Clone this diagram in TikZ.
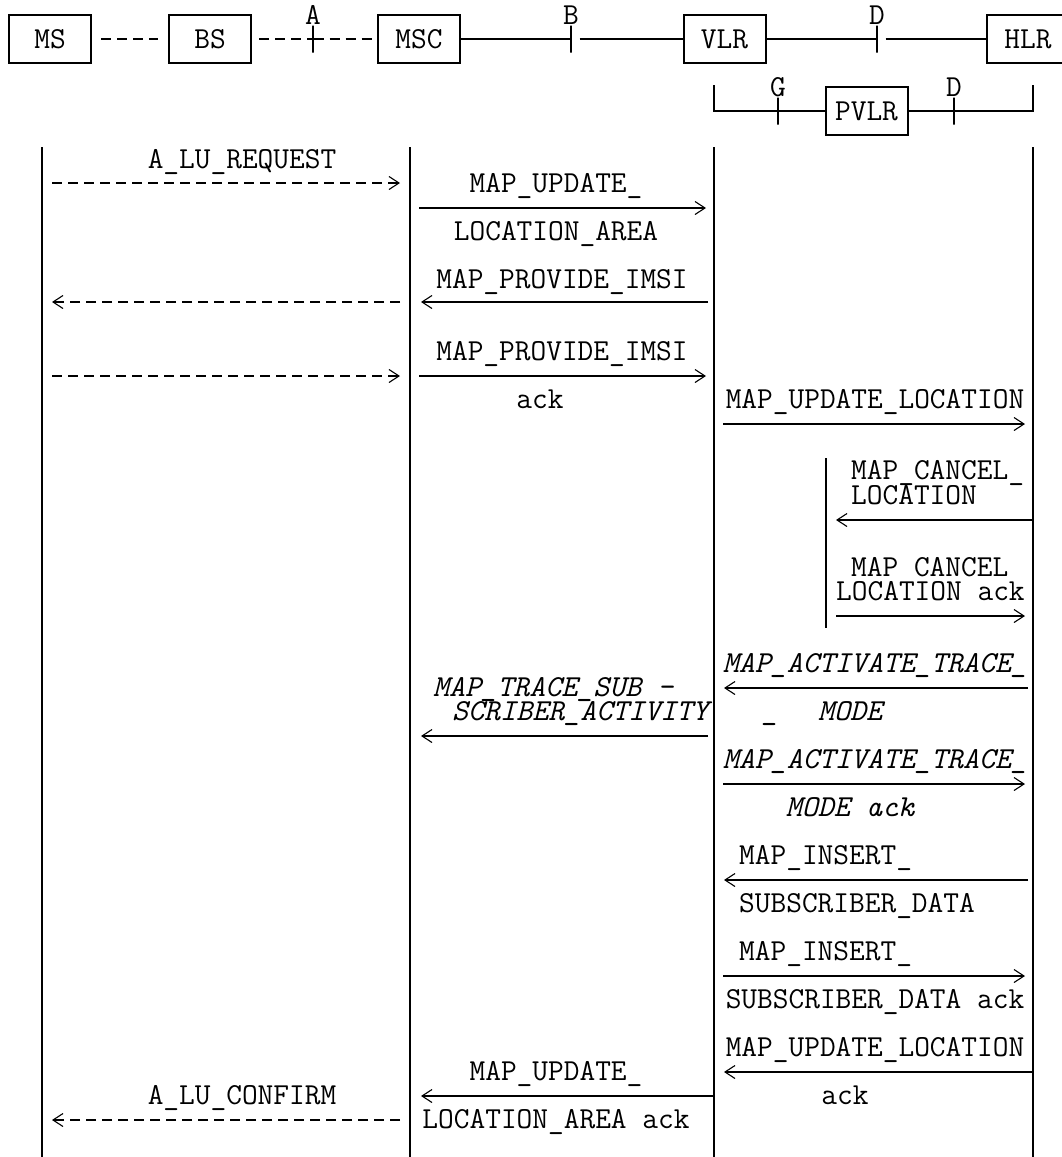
\documentclass[tikz,border=0pt]{standalone}
\usepackage{fontspec}
\usetikzlibrary{arrows.meta}

\begin{document}
\begin{tikzpicture}[x=1pt, y=-1pt,
    unit/.style={rectangle, draw=black, line width=2pt, minimum width=82pt, minimum height=48pt, inner sep=0pt, font=\fontsize{30.5}{24}\ttfamily},
    tick/.style={rectangle, draw=black, line width=1.1pt, minimum width=0pt, minimum height=27pt, inner sep=0pt, label distance=3pt},
    ifname/.style={inner sep=0pt, font=\fontsize{30.5}{24}\ttfamily},
    link/.style={line width=1.6pt},
    dlink/.style={line width=1.3pt, dash pattern=on 10pt off 6pt},
    lifeline/.style={line width=1.5pt},
    msg/.style={line width=2.4pt, -{Straight Barb[length=10pt,width=13pt,line width=1.1pt]}},
    dmsg/.style={line width=1.3pt, dash pattern=on 10pt off 6pt, -{Straight Barb[length=10pt,width=13pt,line width=1.1pt]}},
    lbl/.style={anchor=base, inner sep=0pt, font=\fontsize{30.5}{24}\ttfamily},
    ilbl/.style={lbl, font=\fontsize{30.5}{24}\ttfamily\itshape}
]
\useasboundingbox (0,0) rectangle (1062,1157);

% network elements
\node[unit] (ms) at (50,39) {MS};
\node[unit] (bs) at (210,39) {BS};
\node[unit] (msc) at (419,39) {MSC};
\node[unit] (vlr) at (724.5,39) {VLR};
\node[unit] (hlr) at (1028,39) {HLR};
\node[unit] (pvlr) at (866.5,111) {PVLR};

% interfaces
\node[tick, label={[ifname]above:A}] (ifa) at (313,39) {};
\node[tick, label={[ifname]above:B}] (ifb) at (571,39) {};
\node[tick, label={[ifname]above:D}] (ifd) at (877,39) {};
\node[tick, label={[ifname]above:G}] (ifg) at (778,111) {};
\node[tick, label={[ifname]above:D}] (ifdp) at (954,111) {};
\coordinate (vlrfoot) at (714,85);
\coordinate (hlrfoot) at (1033,85);

\draw[dlink, shorten <=9pt, shorten >=10pt] (ms) -- (bs);
\draw[dlink, shorten <=7pt] (bs) -- (ifa);
\draw[dlink, shorten >=3pt] (ifa) -- (msc);
\draw[link, shorten <=8pt] (msc) -- (ifb) -- (vlr);
\draw[link, shorten <=8pt] (vlr) -- (ifd) -- (hlr);
\draw[link] (vlrfoot) |- (ifg) -- (pvlr);
\draw[link] (pvlr) -- (ifdp) -| (hlrfoot);

% lifelines
\foreach \n/\x in {ms/42, msc/410, vlr/714, hlr/1033} {
  \coordinate (\n T) at (\x,147);
  \coordinate (\n B) at (\x,1160);
  \draw[lifeline] (\n T) -- (\n B);
}
\coordinate (pvlrT) at (826,458);
\coordinate (pvlrB) at (826,628);
\draw[lifeline] (pvlrT) -- (pvlrB);

% location updating
\node[lbl] (lreq) at (242,168) {A\_LU\_REQUEST};
\draw[dmsg, shorten <=10pt, shorten >=10pt] (msT |- 0,183) -- (mscT |- 0,183);
\node[lbl] (lupd1) at (556,192) {MAP\_UPDATE\_};
\draw[msg, shorten <=9pt, shorten >=8pt] (mscT |- 0,208) -- (vlrT |- 0,208);
\node[lbl] (lupd2) at (556,240) {LOCATION\_AREA};

\node[lbl] (lprov1) at (562,288) {MAP\_PROVIDE\_IMSI};
\draw[msg, shorten <=6pt, shorten >=11pt] (vlrT |- 0,302) -- (mscT |- 0,302);
\draw[dmsg, shorten <=10pt, shorten >=10pt] (mscT |- 0,302) -- (msT |- 0,302);

\node[lbl] (lprov2) at (562,360) {MAP\_PROVIDE\_IMSI};
\draw[dmsg, shorten <=10pt, shorten >=10pt] (msT |- 0,376) -- (mscT |- 0,376);
\draw[msg, shorten <=9pt, shorten >=8pt] (mscT |- 0,376) -- (vlrT |- 0,376);
\node[lbl] (lprovack) at (540,408) {ack};

\node[lbl] (lul) at (875,408) {MAP\_UPDATE\_LOCATION};
\draw[msg, shorten <=9pt, shorten >=8pt] (vlrT |- 0,424) -- (hlrT |- 0,424);

% cancel location towards the previous VLR
\node[lbl, anchor=base west] (lcan1) at (851,479) {MAP\_CANCEL\_};
\node[lbl, anchor=base west] (lcan2) at (851,504) {LOCATION};
\draw[msg, shorten >=10pt] (hlrT |- 0,520) -- (pvlrT |- 0,520);
\node[lbl, anchor=base west] (lcana1) at (851,576) {MAP CANCEL};
\node[lbl, anchor=base west] (lcana2) at (836,600) {LOCATION ack};
\draw[msg, shorten <=10pt, shorten >=8pt] (pvlrT |- 0,616) -- (hlrT |- 0,616);

% tracing
\node[ilbl] (lat1) at (875,672) {MAP\_ACTIVATE\_TRACE\_};
\draw[msg, shorten <=5pt, shorten >=10pt] (hlrT |- 0,688) -- (vlrT |- 0,688);
\node[ilbl, anchor=base west] (lat2) at (762,720) {\_\hspace{40pt}MODE};
\node[ilbl, anchor=base west] (lts1) at (433,696) {MAP\_TRACE\_SUB -};
\node[ilbl, anchor=base west] (lts2) at (452,720) {SCRIBER\_ACTIVITY};
\draw[msg, shorten <=6pt, shorten >=11pt] (vlrT |- 0,736) -- (mscT |- 0,736);
\node[ilbl] (lata1) at (875,768) {MAP\_ACTIVATE\_TRACE\_};
\draw[msg, shorten <=9pt, shorten >=8pt] (vlrT |- 0,784) -- (hlrT |- 0,784);
\node[ilbl] (lata2) at (850,816) {MODE ack};

% subscriber data
\node[lbl, anchor=base west] (lins1) at (739,864) {MAP\_INSERT\_};
\draw[msg, shorten <=5pt, shorten >=10pt] (hlrT |- 0,880) -- (vlrT |- 0,880);
\node[lbl, anchor=base west] (lins2) at (739,912) {SUBSCRIBER\_DATA};
\node[lbl, anchor=base west] (linsa1) at (739,960) {MAP\_INSERT\_};
\draw[msg, shorten <=9pt, shorten >=8pt] (vlrT |- 0,976) -- (hlrT |- 0,976);
\node[lbl] (linsa2) at (875,1008) {SUBSCRIBER\_DATA ack};

% confirmation
\node[lbl] (lula1) at (875,1056) {MAP\_UPDATE\_LOCATION};
\draw[msg, shorten >=10pt] (hlrT |- 0,1072) -- (vlrT |- 0,1072);
\node[lbl] (lula2) at (845,1104) {ack};
\node[lbl] (lupda1) at (556,1080) {MAP\_UPDATE\_};
\draw[msg, shorten >=11pt] (vlrT |- 0,1096) -- (mscT |- 0,1096);
\node[lbl] (lupda2) at (556,1128) {LOCATION\_AREA ack};
\node[lbl] (lconf) at (242,1104) {A\_LU\_CONFIRM};
\draw[dmsg, shorten <=10pt, shorten >=10pt] (mscT |- 0,1120) -- (msT |- 0,1120);
\end{tikzpicture}
\end{document}
